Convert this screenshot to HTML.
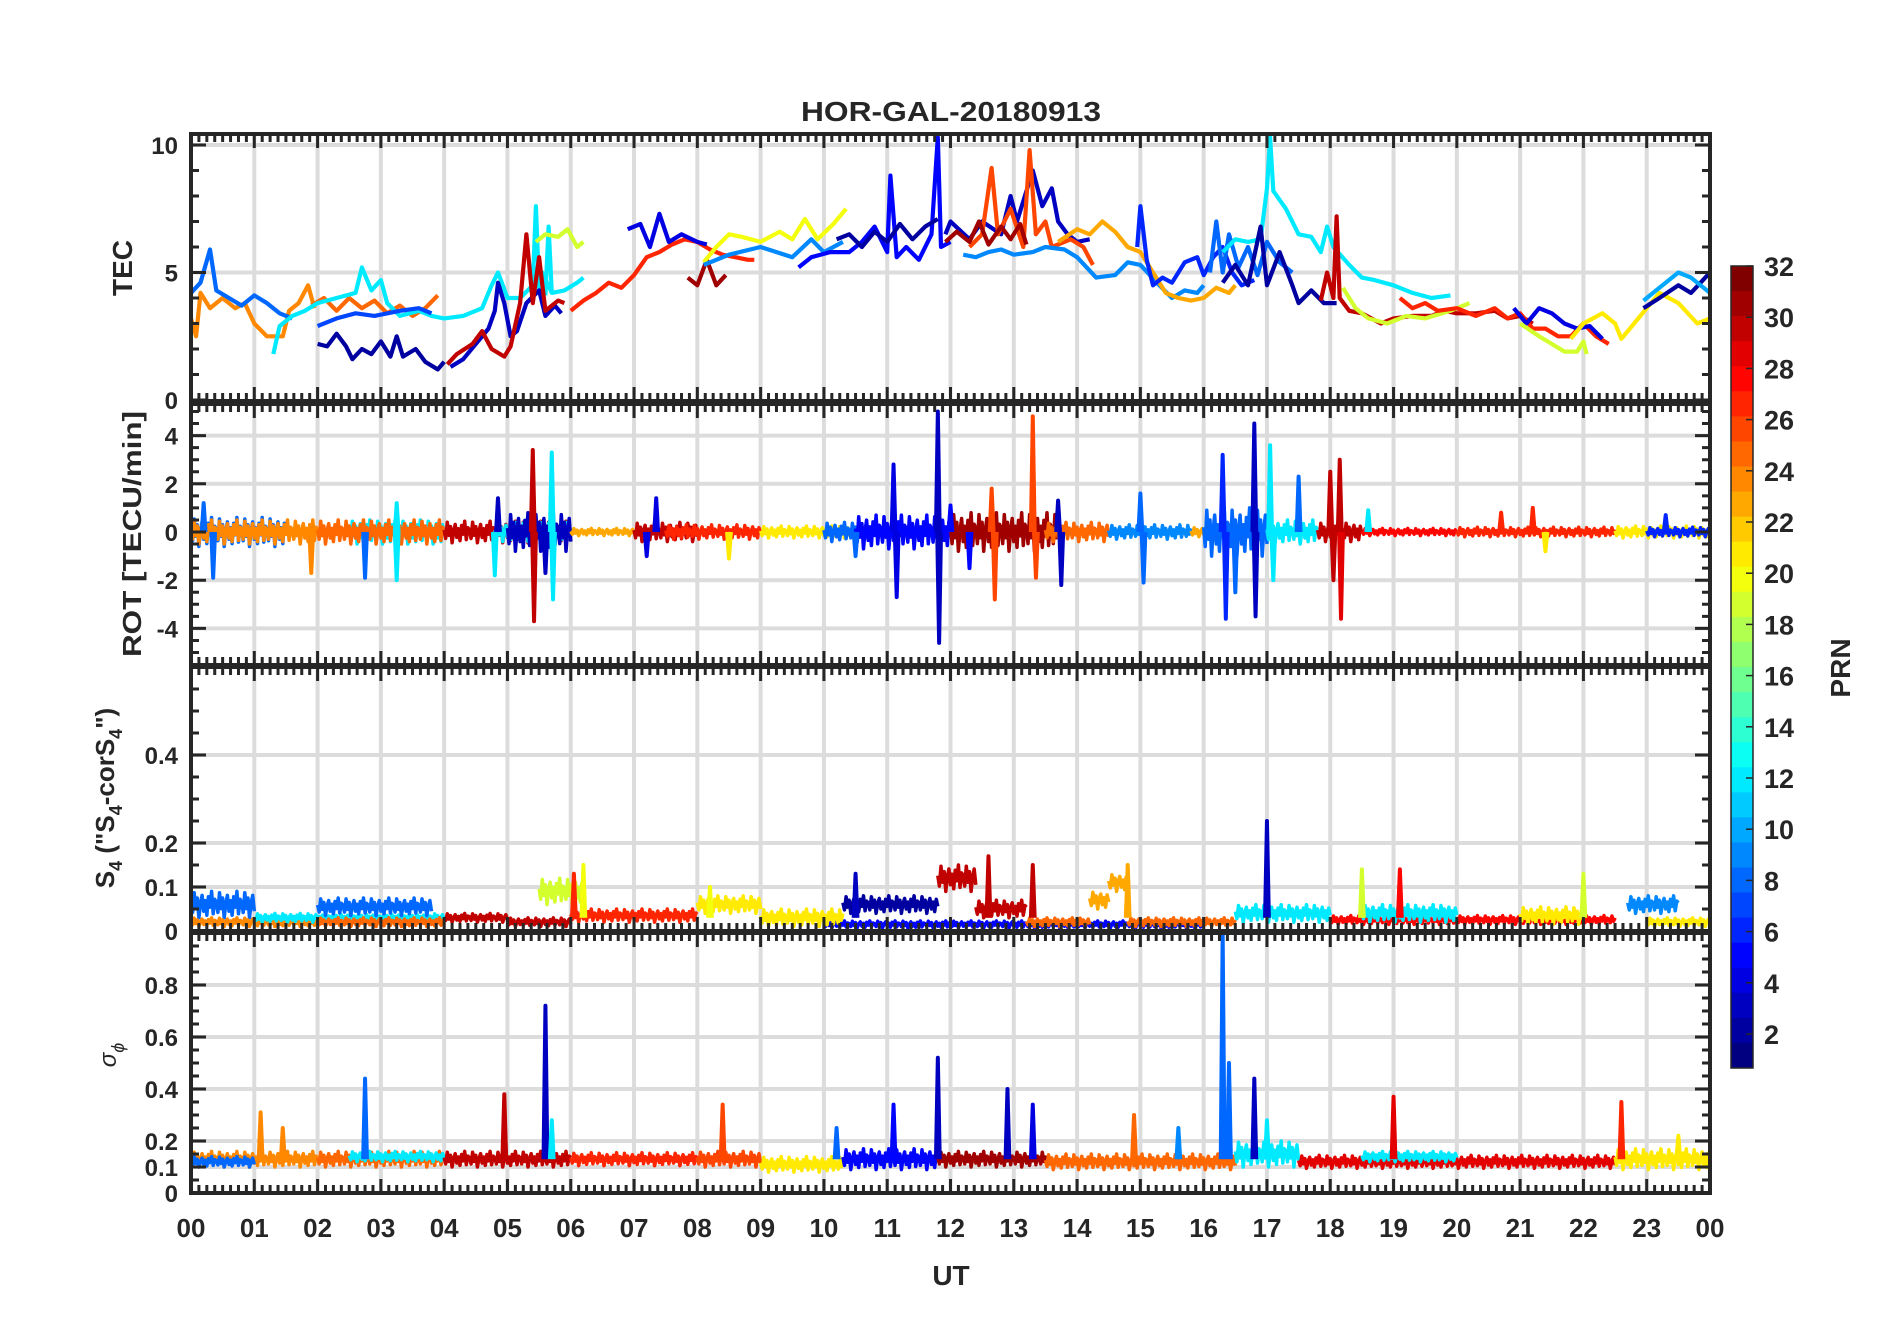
<!DOCTYPE html>
<html><head><meta charset="utf-8"><title>HOR-GAL-20180913</title>
<style>html,body{margin:0;padding:0;background:#fff}svg{display:block}text{font-family:"Liberation Sans",sans-serif;font-weight:bold;fill:#262626}</style>
</head><body>
<svg id="chart" width="1902" height="1330" viewBox="0 0 1902 1330" xmlns="http://www.w3.org/2000/svg">
<g id="grid"></g><g id="series"></g><g id="frames"></g><g id="labels"></g><g id="cbar"></g>
</svg>
<script>
// ---------- data ----------
const hourTicks = ["00","01","02","03","04","05","06","07","08","09","10","11","12","13","14","15","16","17","18","19","20","21","22","23","00"];
const tecTicks = [0,5,10];
const rotTicks = [-4,-2,0,2,4];
const s4Ticks = [0,0.1,0.2,0.4];
const sigTicks = [0,0.1,0.2,0.4,0.6,0.8];
const prnTicks = [2,4,6,8,10,12,14,16,18,20,22,24,26,28,30,32];

// TEC series: prn + [hour, TEC] points
const tecPrn = [24,25,8,12,7,2,12,3,30,19,27,31,4,20,9,5,2,3,26,31,9,23,6,8,12,2,30,19,27,4,19,21,2,10];
const tecPts = [
 [[0,3.2],[0.08,2.5],[0.15,4.2],[0.3,3.6],[0.5,4.0],[0.7,3.6],[0.85,3.8],[1.0,3.0],[1.2,2.5],[1.45,2.5],[1.55,3.5],[1.7,3.8],[1.85,4.5],[1.95,3.6]],
 [[1.9,3.7],[2.1,4.0],[2.3,3.5],[2.5,4.0],[2.7,3.6],[2.9,3.9],[3.1,3.4],[3.3,3.7],[3.5,3.3],[3.7,3.6],[3.9,4.1]],
 [[0,4.2],[0.15,4.6],[0.3,5.9],[0.4,4.3],[0.6,4.0],[0.8,3.7],[1.0,4.1],[1.2,3.8],[1.4,3.4],[1.6,3.2]],
 [[1.3,1.8],[1.4,2.9],[1.6,3.3],[1.8,3.5],[2.0,3.8],[2.3,4.0],[2.6,4.2],[2.7,5.2],[2.85,4.3],[3.0,4.7],[3.1,3.8],[3.3,3.3],[3.6,3.5],[3.8,3.3],[4.0,3.2],[4.3,3.3],[4.6,3.6],[4.75,4.5],[4.85,5.0],[5.0,4.0],[5.2,4.0],[5.4,4.5],[5.45,7.6],[5.5,4.4],[5.55,5.0],[5.7,4.2],[5.9,4.3],[6.1,4.6],[6.2,4.8]],
 [[2.0,2.9],[2.3,3.2],[2.6,3.4],[2.9,3.3],[3.3,3.5],[3.6,3.6],[3.8,3.4]],
 [[2.0,2.2],[2.15,2.1],[2.3,2.6],[2.45,2.1],[2.55,1.6],[2.7,2.0],[2.85,1.8],[3.0,2.3],[3.15,1.7],[3.25,2.5],[3.35,1.7],[3.55,2.0],[3.7,1.5],[3.9,1.2],[4.0,1.5]],
 [[5.6,4.1],[5.65,6.8],[5.7,4.2]],
 [[4.1,1.3],[4.3,1.6],[4.5,2.2],[4.7,2.8],[4.8,3.5],[4.85,4.6],[4.95,3.8],[5.05,2.5],[5.15,2.7],[5.3,3.8],[5.5,4.3],[5.6,3.3],[5.75,3.7],[5.85,3.4]],
 [[4.05,1.4],[4.2,1.8],[4.45,2.2],[4.6,2.7],[4.75,2.0],[4.95,1.7],[5.05,2.1],[5.2,3.8],[5.3,6.5],[5.4,3.8],[5.5,5.6],[5.6,3.5],[5.8,3.9],[5.9,3.8]],
 [[5.45,6.2],[5.6,6.5],[5.8,6.4],[5.95,6.7],[6.1,6.0],[6.2,6.2]],
 [[6.0,3.5],[6.2,3.9],[6.4,4.2],[6.6,4.6],[6.8,4.4],[7.0,4.9],[7.2,5.6],[7.4,5.8],[7.6,6.1],[7.8,6.3],[8.0,6.2],[8.2,5.9],[8.4,5.7],[8.6,5.6],[8.8,5.5],[8.9,5.5]],
 [[7.85,4.8],[8.0,4.5],[8.15,5.5],[8.3,4.5],[8.45,4.9]],
 [[6.9,6.7],[7.1,6.9],[7.25,6.0],[7.4,7.3],[7.55,6.2],[7.75,6.5],[8.0,6.2],[8.15,6.1]],
 [[8.1,5.4],[8.3,6.0],[8.5,6.5],[8.7,6.4],[9.0,6.2],[9.3,6.6],[9.5,6.3],[9.7,7.1],[9.9,6.3],[10.15,6.9],[10.35,7.5]],
 [[8.1,5.3],[8.5,5.7],[9.0,6.0],[9.5,5.6],[9.8,6.3],[10.0,5.8],[10.3,6.2]],
 [[9.6,5.2],[9.8,5.6],[10.1,5.8],[10.4,5.8],[10.6,6.2],[10.8,6.8],[11.0,5.8],[11.05,8.8],[11.15,5.6],[11.3,6.0],[11.5,5.5],[11.7,6.5],[11.8,10.3],[11.85,6.0],[12.0,6.2]],
 [[10.2,6.3],[10.4,6.5],[10.6,6.0],[10.8,6.6],[11.0,6.2],[11.2,6.9],[11.4,6.3],[11.6,6.8],[11.8,7.1]],
 [[11.92,6.5],[12.0,7.0],[12.3,6.3],[12.5,7.0],[12.8,6.5],[12.95,8.0],[13.05,7.0],[13.3,9.0],[13.45,7.6],[13.6,8.3],[13.7,7.0],[13.85,6.5],[14.0,6.2],[14.2,6.3]],
 [[12.3,6.0],[12.5,6.5],[12.65,9.1],[12.75,6.5],[12.95,7.5],[13.15,6.0],[13.25,9.8],[13.35,6.5],[13.5,7.0],[13.6,6.0],[13.9,6.3],[14.1,6.0],[14.25,5.3]],
 [[11.92,6.2],[12.1,6.6],[12.3,6.2],[12.45,7.0],[12.6,6.1],[12.8,6.8],[12.95,6.3],[13.1,6.9],[13.2,6.1]],
 [[12.2,5.7],[12.4,5.6],[12.6,5.8],[12.8,5.9],[13.0,5.7],[13.3,5.8],[13.5,6.0],[13.8,5.9],[14.0,5.6],[14.3,4.8],[14.6,4.9],[14.8,5.4],[15.0,5.3],[15.3,4.5],[15.5,4.0],[15.7,4.3],[15.9,4.2],[16.0,4.5]],
 [[13.7,6.2],[14.0,6.7],[14.2,6.5],[14.4,7.0],[14.6,6.6],[14.8,6.0],[15.0,5.8],[15.2,5.0],[15.4,4.2],[15.6,4.0],[15.8,3.9],[16.0,4.0],[16.2,4.4],[16.4,4.2],[16.5,4.5]],
 [[14.95,6.0],[15.0,7.6],[15.1,5.5],[15.2,4.5],[15.35,4.8],[15.5,4.6],[15.7,5.4],[15.9,5.6],[16.0,4.9],[16.15,5.6],[16.3,6.0],[16.45,5.0],[16.6,4.5],[16.8,4.7]],
 [[16.1,5.0],[16.2,7.0],[16.3,5.0],[16.4,6.5],[16.55,5.2],[16.7,6.0],[16.85,4.9],[17.0,6.2],[17.2,5.4],[17.4,5.0]],
 [[16.3,5.8],[16.5,6.3],[16.7,6.2],[16.9,6.3],[17.0,8.3],[17.05,10.3],[17.1,8.2],[17.3,7.5],[17.5,6.5],[17.7,6.4],[17.85,5.8],[17.95,6.8],[18.05,6.0],[18.3,5.3],[18.5,4.8],[18.7,4.7],[19.0,4.5],[19.3,4.2],[19.6,4.0],[19.9,4.1]],
 [[16.3,4.6],[16.5,5.3],[16.7,4.5],[16.9,6.8],[17.0,4.5],[17.2,5.8],[17.4,4.5],[17.5,3.8],[17.7,4.3],[17.9,3.8],[18.1,3.8]],
 [[17.85,3.9],[17.95,5.0],[18.05,4.0],[18.1,7.2],[18.15,4.0],[18.3,3.5],[18.5,3.4],[18.8,3.0],[19.0,3.2],[19.3,3.3],[19.6,3.3],[19.8,3.5],[20.0,3.4],[20.3,3.4],[20.6,3.5],[20.8,3.2],[21.0,3.3],[21.2,3.0]],
 [[18.2,4.4],[18.4,3.6],[18.6,3.2],[18.9,3.0],[19.2,3.3],[19.5,3.2],[19.9,3.5],[20.2,3.8]],
 [[19.1,4.0],[19.3,3.6],[19.5,3.8],[19.7,3.5],[20.0,3.6],[20.3,3.3],[20.6,3.6],[20.8,3.2],[21.0,3.4],[21.2,2.8],[21.4,2.8],[21.6,2.5],[21.8,2.5],[22.0,3.0],[22.2,2.5],[22.4,2.2]],
 [[20.9,3.6],[21.1,3.0],[21.3,3.6],[21.5,3.4],[21.7,3.0],[21.9,2.8],[22.1,2.9],[22.3,2.4]],
 [[21.0,3.0],[21.3,2.5],[21.5,2.2],[21.7,1.9],[21.9,1.9],[22.0,2.3],[22.05,1.8]],
 [[21.8,2.4],[22.0,3.0],[22.3,3.4],[22.5,3.0],[22.6,2.4],[22.9,3.3],[23.2,4.2],[23.5,3.8],[23.8,3.0],[24,3.2]],
 [[22.95,3.6],[23.2,4.0],[23.5,4.5],[23.7,4.2],[24,5.0]],
 [[22.95,3.9],[23.2,4.4],[23.5,5.0],[23.7,4.8],[24,4.2]]
];

// ROT: noisy bands [start, end, prn, amplitude] and spikes [hour, value, prn]
const rotBands = [[0,1.5,8,0.6],[0,2,24,0.5],[2.5,4,12,0.5],[2,4,25,0.5],[4,6,30,0.45],[4.8,6,12,0.4],[5,6,3,0.8],[6,7,23,0.15],[7,8,30,0.4],[7.5,9,27,0.3],[9,10.5,21,0.25],[10,10.6,8,0.4],[10.5,12,5,0.7],[12,13.7,31,0.8],[13.5,14.5,25,0.4],[14.5,15.8,9,0.3],[15.8,16.5,23,0.2],[16,17,8,1.0],[17,17.8,12,0.5],[17.8,18.5,30,0.4],[18.5,20,28,0.15],[20,22.5,27,0.2],[22.5,24,21,0.25],[23,24,6,0.2]];
const rotSpikes = [[0.35,-1.9,8],[0.2,1.2,8],[1.9,-1.7,24],[2.75,-1.9,8],[3.25,-2.0,12],[3.25,1.2,12],[4.8,-1.8,12],[4.85,1.4,3],[5.4,3.4,30],[5.42,-3.7,30],[5.7,3.3,12],[5.72,-2.8,12],[5.6,-1.7,3],[7.35,1.4,4],[7.2,-1.0,4],[8.5,-1.1,21],[10.5,-1.0,8],[11.1,2.8,4],[11.15,-2.7,4],[11.8,5.0,3],[11.82,-4.6,3],[12.0,1.1,5],[12.3,-1.5,5],[12.65,1.8,26],[12.7,-2.8,26],[13.3,4.8,26],[13.35,-1.9,26],[13.7,1.3,3],[13.75,-2.2,3],[15.0,1.6,8],[15.05,-2.1,8],[16.3,3.2,6],[16.35,-3.6,6],[16.8,4.5,3],[16.82,-3.5,3],[17.05,3.6,12],[17.1,-2.0,12],[16.5,-2.5,8],[17.5,2.3,8],[18.0,2.5,30],[18.05,-2.0,30],[18.15,3.0,30],[18.17,-3.6,29],[18.6,0.9,12],[20.7,0.8,27],[21.2,1.0,27],[21.4,-0.8,21],[23.3,0.7,6]];

// S4: bands [start, end, prn, level, amplitude] and spikes [hour, value, prn]
const s4Bands = [[0,1.0,8,0.06,0.03],[0,2.0,24,0.02,0.01],[1,4,12,0.03,0.01],[2,3.8,8,0.055,0.02],[2,4,25,0.02,0.01],[4,5,30,0.03,0.01],[10,16,5,0.015,0.008],[5,6,30,0.02,0.01],[5.5,6.2,19,0.09,0.03],[6,8,27,0.035,0.015],[8,9,21,0.06,0.02],[9,10.3,21,0.03,0.02],[10.3,11.8,2,0.06,0.02],[11.8,12.4,30,0.12,0.03],[12.4,13.2,30,0.05,0.02],[13.2,14.2,25,0.02,0.01],[14.2,14.5,23,0.07,0.02],[14.5,14.8,23,0.11,0.02],[14.8,16.5,25,0.02,0.01],[16.5,18,12,0.04,0.02],[18,22.5,28,0.025,0.01],[18.5,20,12,0.04,0.02],[21,22,21,0.035,0.02],[22.7,23.5,9,0.06,0.02],[23,24,21,0.02,0.01]];
const s4Spikes = [[17.0,0.25,3],[12.6,0.17,30],[13.3,0.15,30],[14.8,0.15,23],[18.5,0.14,19],[19.1,0.14,28],[22.0,0.13,19],[6.2,0.15,20],[6.05,0.13,27],[10.5,0.13,3],[8.2,0.1,20]];

// sigma-phi: bands and spikes
const sigBands = [[0,2,24,0.13,0.03],[0,1,8,0.12,0.02],[2,4,25,0.13,0.03],[2.5,4,12,0.14,0.02],[4,6,30,0.13,0.03],[6,8,27,0.13,0.025],[8,9,26,0.13,0.03],[9,10.3,21,0.11,0.03],[10.3,11.8,5,0.13,0.04],[11.8,13.5,31,0.13,0.03],[13.5,16.5,25,0.12,0.03],[16.5,17.5,12,0.15,0.05],[17.5,22.5,29,0.12,0.025],[18.5,20,12,0.14,0.02],[22.5,24,21,0.13,0.04]];
const sigSpikes = [[1.1,0.31,24],[1.45,0.25,24],[2.75,0.44,8],[4.95,0.38,30],[5.6,0.72,3],[5.7,0.28,12],[8.4,0.34,26],[10.2,0.25,8],[11.1,0.34,5],[11.8,0.52,3],[12.9,0.40,3],[13.3,0.34,4],[14.9,0.30,25],[15.6,0.25,9],[16.3,1.0,8],[16.4,0.5,8],[16.8,0.44,3],[17.0,0.28,12],[19.0,0.37,29],[22.6,0.35,27],[23.5,0.22,21]];

// ---------- layout ----------
const X0=191, X1=1710;
const xs = h => X0 + (X1-X0)*h/24;
const P = {
 tec:{top:134,bot:401,y:v=>400-25.5*v},
 rot:{top:404,bot:665,y:v=>532-24.1*v},
 s4:{top:667,bot:931,y:v=>931-440*v},
 sig:{top:933,bot:1193,y:v=>1193-260*v}
};
const NS="http://www.w3.org/2000/svg";
function mk(parent,tag,attrs,text){const e=document.createElementNS(NS,tag);for(const k in attrs)e.setAttribute(k,attrs[k]);if(text!==undefined)e.textContent=text;parent.appendChild(e);return e;}
function jet(prn){const t=(prn-1)/31;const c=x=>Math.round(255*Math.max(0,Math.min(1,1.5-Math.abs(x))));return `rgb(${c(4*t-3)},${c(4*t-2)},${c(4*t-1)})`;}
const gGrid=document.getElementById('grid'),gS=document.getElementById('series'),gF=document.getElementById('frames'),gL=document.getElementById('labels'),gC=document.getElementById('cbar');
const texture=[0.2,-0.6,0.9,-0.3,0.5,-1,0.1,0.7,-0.5,0.3,-0.8,0.6,-0.2,1,-0.7,0.4];

// grids
const gridY={tec:[5,10],rot:[-4,-2,0,2,4],s4:[0.1,0.2,0.4],sig:[0.1,0.2,0.4,0.6,0.8]};
for(const k in P){const p=P[k];
 for(let h=1;h<24;h++){const l=mk(gGrid,'line',{x1:xs(h),x2:xs(h),y1:p.top,y2:p.bot,stroke:'#dcdcdc','stroke-width':4});
  
  }
 for(const v of gridY[k]){const l=mk(gGrid,'line',{x1:X0,x2:X1,y1:p.y(v),y2:p.y(v),stroke:'#dcdcdc','stroke-width':4});
  
  }
}
// clip paths
const defs=mk(document.getElementById('chart'),'defs',{});
for(const k in P){const cp=mk(defs,'clipPath',{id:'cp-'+k});mk(cp,'rect',{x:X0,y:P[k].top,width:X1-X0,height:P[k].bot-P[k].top});}

// TEC lines
tecPts.forEach((pts,i)=>{
 const d=pts.map((p,j)=>(j?'L':'M')+xs(p[0]).toFixed(1)+' '+P.tec.y(p[1]).toFixed(1)).join(' ');
 const e=mk(gS,'path',{d:d,fill:'none',stroke:jet(tecPrn[i]),'stroke-width':4.2,'stroke-linejoin':'round','clip-path':'url(#cp-tec)'});
 
 
});
function band(panel,key,s,e,prn,level,amp,name){
 const p=P[panel];let d='';let k=0;
 for(let h=s;h<=e+1e-9;h+=0.025){const v=level+amp*texture[k%texture.length];d+=(k?'L':'M')+xs(h).toFixed(1)+' '+p.y(v).toFixed(1);k++;}
 const el=mk(gS,'path',{d:d,fill:'none',stroke:jet(prn),'stroke-width':3.5,'stroke-linejoin':'round','clip-path':'url(#cp-'+panel+')'});
 
 
}
function spike(panel,h,v,base,prn,name){
 const p=P[panel];
 const el=mk(gS,'path',{d:`M${xs(h-0.03)} ${p.y(base)} L${xs(h)} ${p.y(v)} L${xs(h+0.03)} ${p.y(base)}`,fill:'none',stroke:jet(prn),'stroke-width':4,'stroke-linejoin':'round','clip-path':'url(#cp-'+panel+')'});
 
 
}
rotBands.forEach(b=>band('rot','rot',b[0],b[1],b[2],0,b[3],'rot-series-prn'+b[2]));
rotSpikes.forEach(s=>spike('rot',s[0],s[1],0,s[2],'rot-spike'));
s4Bands.forEach(b=>band('s4','s4',b[0],b[1],b[2],b[3],b[4],'s4-series-prn'+b[2]));
s4Spikes.forEach(s=>spike('s4',s[0],s[1],0.03,s[2],'s4-spike'));
sigBands.forEach(b=>band('sig','sig',b[0],b[1],b[2],b[3],b[4],'sigma-series-prn'+b[2]));
sigSpikes.forEach(s=>spike('sig',s[0],s[1],0.13,s[2],'sigma-spike'));

// frames and ticks
const yMinor={tec:1,rot:0.5,s4:0.05,sig:0.05};
const yMajor={tec:[0,5,10],rot:[-4,-2,0,2,4],s4:[0,0.1,0.2,0.4],sig:[0,0.1,0.2,0.4,0.6,0.8]};
const yRange={tec:[0,10.4],rot:[-5.5,5.3],s4:[0,0.6],sig:[0,1]};
for(const k in P){const p=P[k];let d='';
 for(let i=0;i<=192;i++){const h=i/8,x=xs(h),L=(i%8===0)?14:8;d+=`M${x} ${p.top}v${L}M${x} ${p.bot}v${-L}`;}
 const [a,b]=yRange[k];
 for(let v=Math.ceil(a/yMinor[k])*yMinor[k];v<=b+1e-9;v+=yMinor[k]){const y=p.y(v);if(y<p.top||y>p.bot)continue;d+=`M${X0} ${y}h8M${X1} ${y}h-8`;}
 for(const v of yMajor[k]){const y=p.y(v);d+=`M${X0} ${y}h15M${X1} ${y}h-15`;}
 const t=mk(gF,'path',{d:d,stroke:'#262626','stroke-width':3,fill:'none'});
 
 
 const r=mk(gF,'rect',{x:X0,y:p.top,width:X1-X0,height:p.bot-p.top,fill:'none',stroke:'#262626','stroke-width':4});
 
 
}
// tick labels
function ylab(panel,vals){vals.forEach(v=>{const t=mk(gL,'text',{x:178,y:P[panel].y(v)+9,'text-anchor':'end','font-size':24},String(v));
 
 });}
ylab('tec',tecTicks);ylab('rot',rotTicks);ylab('s4',s4Ticks);ylab('sig',sigTicks);
hourTicks.forEach((s,i)=>{const t=mk(gL,'text',{x:xs(i),y:1237,'text-anchor':'middle','font-size':26},s);
 
 });

// colorbar
const CB={x:1731,w:22,top:266,bot:1068};
const bh=(CB.bot-CB.top)/32;
for(let i=0;i<32;i++){const prn=32-i;const r=mk(gC,'rect',{x:CB.x,y:CB.top+i*bh,width:CB.w,height:bh+0.5,fill:jet(prn)});
 
 }
const cbf=mk(gC,'rect',{x:CB.x,y:CB.top,width:CB.w,height:CB.bot-CB.top,fill:'none',stroke:'#262626','stroke-width':1.5});


const cby=v=>CB.top+(32-v)*25.6;
prnTicks.forEach(v=>{const y=cby(v);mk(gC,'line',{x1:CB.x+CB.w-7,x2:CB.x+CB.w,y1:y,y2:y,stroke:'#262626','stroke-width':1.5});
 const t=mk(gC,'text',{x:1764,y:y+10,'font-size':27},String(v));
 
 });
</script>
<svg style="position:absolute;left:0;top:0" width="1902" height="1330">
<text x="951" y="121" text-anchor="middle" font-size="28" textLength="300" lengthAdjust="spacingAndGlyphs">HOR-GAL-20180913</text>
<text x="951" y="1285" text-anchor="middle" font-size="28">UT</text>
<text transform="translate(132,268) rotate(-90)" text-anchor="middle" font-size="28">TEC</text>
<text transform="translate(141,534) rotate(-90)" text-anchor="middle" font-size="26" textLength="246" lengthAdjust="spacingAndGlyphs">ROT [TECU/min]</text>
<text transform="translate(114,798) rotate(-90)" text-anchor="middle" font-size="26">S<tspan font-size="18" dy="8">4</tspan><tspan dy="-8"> ("S</tspan><tspan font-size="18" dy="8">4</tspan><tspan dy="-8">-corS</tspan><tspan font-size="18" dy="8">4</tspan><tspan dy="-8">")</tspan></text>
<text transform="translate(116,1055) rotate(-90)" text-anchor="middle" font-size="24" font-style="italic" style="font-weight:normal">σ<tspan font-size="18" dy="8">ϕ</tspan></text>
<text transform="translate(1850,668) rotate(-90)" text-anchor="middle" font-size="28">PRN</text>
</svg>
</body></html>
